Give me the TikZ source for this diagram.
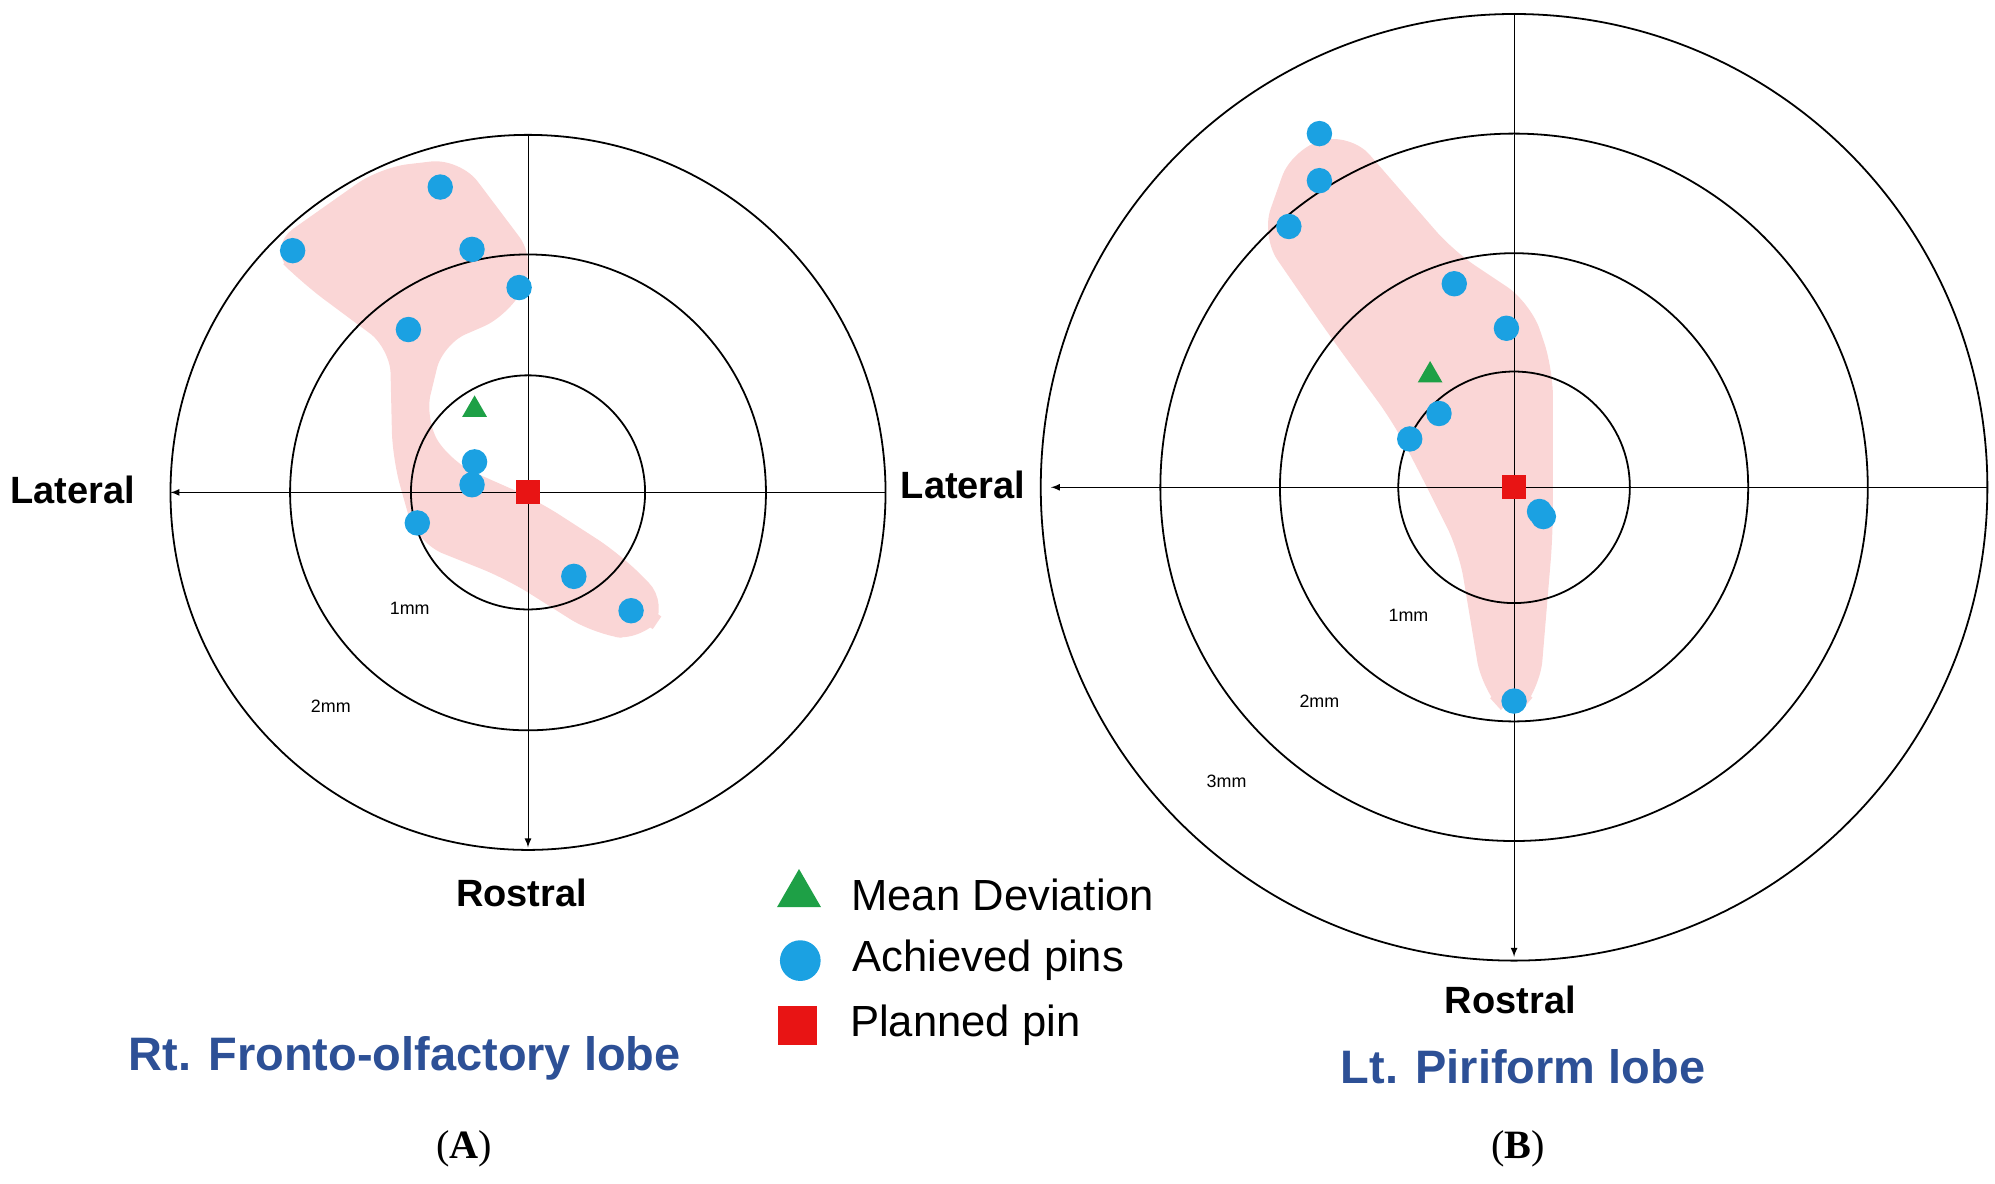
\documentclass[tikz,border=0pt]{standalone}
\usepackage{fontspec}
\setmainfont{Liberation Serif}
\newfontfamily\labelfont{Liberation Sans}
\usetikzlibrary{arrows, shapes.geometric}
\definecolor{pinblue}{RGB}{27,161,226}
\definecolor{bandpink}{RGB}{250,214,214}
\definecolor{meangreen}{RGB}{30,160,70}
\definecolor{planred}{RGB}{232,20,20}
\definecolor{titleblue}{RGB}{45,80,150}
\tikzset{
  pin/.style={circle, fill=pinblue, inner sep=0pt, minimum size=0.4cm},
  mean/.style={regular polygon, regular polygon sides=3, fill=meangreen, inner sep=0pt, minimum size=0.45cm},
  plan/.style={rectangle, fill=planred, inner sep=0pt, minimum size=0.38cm},
  band/.style={fill=bandpink, draw=bandpink, line width=4pt, rounded corners=12pt},
  axislabel/.style={font=\labelfont\bfseries\fontsize{17}{20}\selectfont},
  ringlabel/.style={font=\labelfont\fontsize{8}{10}\selectfont},
  title/.style={font=\labelfont\bfseries\fontsize{21}{24}\selectfont, text=titleblue},
}
\begin{document}
\begin{tikzpicture}[x=0.02cm, y=-0.02cm]
  \useasboundingbox (0,0) rectangle (1568,930);

  % Left target.
  \path [band] (215,195) -- (300,135) -- (360,128) -- (418,205) -- (398,245)
        -- (345,268) -- (330,330) -- (352,366) -- (420,396) -- (485,438)
        -- (522,475) -- (505,500) -- (468,495) -- (400,452) -- (330,424)
        -- (312,360) -- (310,272) -- (240,220) -- cycle;
  \coordinate (lc) at (415,387);
  \foreach \r in {92,187,281}
    \draw [thick] (lc) circle (\r);
  \coordinate (lright) at (696,387);
  \coordinate (lleft) at (134,387);
  \coordinate (ltop) at (415,106);
  \coordinate (lbottom) at (415,666);
  \draw [arrows={-latex}] (lright) -- (lleft);
  \draw [arrows={-latex}] (ltop) -- (lbottom);
  \node [axislabel] (llateral) at (57,385) {Lateral};
  \node [axislabel] (lrostral) at (410,702) {Rostral};
  \node [ringlabel] (lone) at (322,478) {1mm};
  \node [ringlabel] (ltwo) at (260,555) {2mm};
  \foreach \x/\y in {230/197, 346/147, 371/196, 408/226, 321/259, 373/363,
                     371/381, 328/411, 451/453, 496/480}
    \node [pin] at (\x,\y) {};
  \node [mean] (lmean) at (373,322) {};
  \node [plan] (lplan) at (lc) {};

  % Right target.
  \path [band] (995,185) -- (1018,120) -- (1060,108) -- (1140,200)
        -- (1200,240) -- (1217,290) -- (1217,420) -- (1207,540) -- (1188,562)
        -- (1168,540) -- (1150,432) -- (1120,372) -- (1098,330) -- (1048,262) -- cycle;
  \coordinate (rc) at (1190,383);
  \foreach \r in {91,184,278,372}
    \draw [thick] (rc) circle (\r);
  \coordinate (rright) at (1562,383);
  \coordinate (rleft) at (826,383);
  \coordinate (rtop) at (1190,10);
  \coordinate (rbottom) at (1190,752);
  \draw [arrows={-latex}] (rright) -- (rleft);
  \draw [arrows={-latex}] (rtop) -- (rbottom);
  \node [axislabel] (rlateral) at (757,381) {Lateral};
  \node [axislabel] (rrostral) at (1187,786) {Rostral};
  \node [ringlabel] (rone) at (1107,484) {1mm};
  \node [ringlabel] (rtwo) at (1037,551) {2mm};
  \node [ringlabel] (rthree) at (964,614) {3mm};
  \foreach \x/\y in {1037/105, 1037/142, 1013/178, 1143/223, 1184/258,
                     1131/325, 1108/345, 1213/406, 1210/402, 1190/551}
    \node [pin] at (\x,\y) {};
  \node [mean] (rmean) at (1124,295) {};
  \node [plan] (rplan) at (rc) {};

  % Legend.
  \node [mean, minimum size=0.8cm] (kmean) at (628,703) {};
  \node [pin, minimum size=0.64cm] (kpin) at (629,755) {};
  \node [plan, minimum size=0.62cm] (kplan) at (627,806) {};
  \foreach \n/\t in {kmean/Mean Deviation, kpin/Achieved pins, kplan/Planned pin}
    \node [anchor=west, font=\labelfont\fontsize{19.5}{23}\selectfont] at ([xshift=0.7cm]\n.center) {\t};

  % Titles.
  \node [title] (ltitle) at (318,832) {Rt. Fronto-olfactory lobe};
  \node [title] (rtitle) at (1197,838) {Lt. Piriform lobe};
  \node [font=\fontsize{18}{22}\selectfont] (lcap) at (365,903) {(\textbf{A})};
  \node [font=\fontsize{18}{22}\selectfont] (rcap) at (1193,903) {(\textbf{B})};
\end{tikzpicture}
\end{document}
